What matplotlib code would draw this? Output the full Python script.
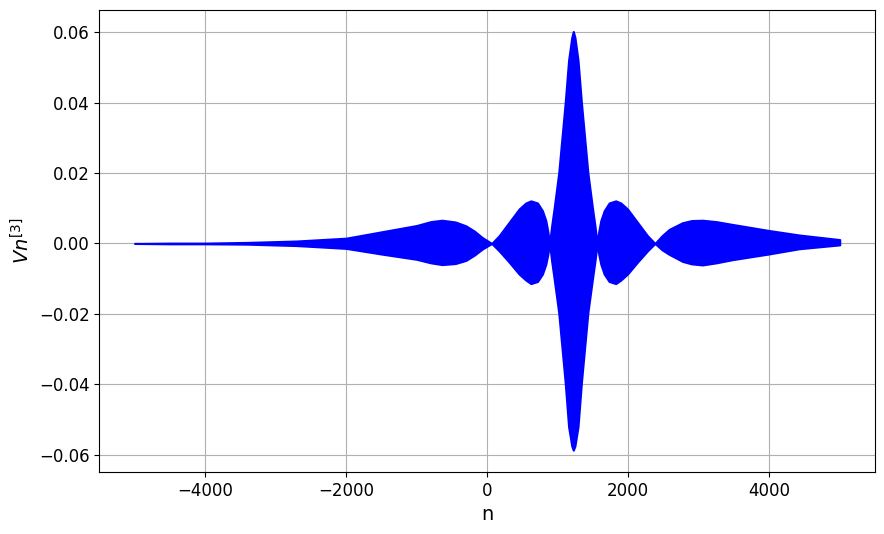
import matplotlib
matplotlib.use("Agg")
import matplotlib.pyplot as plt

# Envelope (upper / lower extremes) of the dense oscillation
n_points = [-5000, -4500, -4000, -3400, -2700, -2000, -1500, -1000, -800, -640, -450, -300, -180, -70, 65,
            170, 312, 454, 549, 620, 714, 784, 832, 860, 885,
            915, 950, 1015, 1107, 1155, 1200, 1222, 1245, 1289, 1337, 1429, 1494, 1529, 1560,
            1584, 1612, 1660, 1730, 1824, 1895, 1990, 2132, 2274, 2380,
            2480, 2582, 2771, 2900, 3054, 3250, 3480, 3991, 4426, 5000]
upper_env = [0.0, 0.0001, 0.0001, 0.0003, 0.0007, 0.0015, 0.0033, 0.0051, 0.0062, 0.0066, 0.0061, 0.0050, 0.0035, 0.0017, 0.0,
             0.0022, 0.0060, 0.0098, 0.0115, 0.0121, 0.0115, 0.0093, 0.0065, 0.0035, 0.0,
             0.0050, 0.0100, 0.0200, 0.0400, 0.0520, 0.0585, 0.0602, 0.0585, 0.0520, 0.0400, 0.0200, 0.0100, 0.0050, 0.0,
             0.0035, 0.0065, 0.0093, 0.0115, 0.0121, 0.0115, 0.0098, 0.0060, 0.0022, 0.0,
             0.0022, 0.0040, 0.0059, 0.0065, 0.0066, 0.0062, 0.0054, 0.0037, 0.0024, 0.0011]
lower_env = [0.0, -0.0001, -0.0001, -0.0002, -0.0006, -0.0014, -0.0030, -0.0045, -0.0055, -0.0060, -0.0057, -0.0048, -0.0033, -0.0016, 0.0,
             -0.0021, -0.0053, -0.0087, -0.0104, -0.0114, -0.0108, -0.0087, -0.0059, -0.0032, 0.0,
             -0.0050, -0.0100, -0.0196, -0.0395, -0.0520, -0.0575, -0.0587, -0.0575, -0.0520, -0.0395, -0.0196, -0.0100, -0.0050, 0.0,
             -0.0032, -0.0059, -0.0087, -0.0108, -0.0114, -0.0104, -0.0087, -0.0053, -0.0021, 0.0,
             -0.0018, -0.0031, -0.0051, -0.0058, -0.0061, -0.0055, -0.0046, -0.0030, -0.0015, -0.0004]

x_ticks = [-4000, -2000, 0, 2000, 4000]
y_ticks = [-0.06, -0.04, -0.02, 0.00, 0.02, 0.04, 0.06]

fig = plt.figure(figsize=(8.84, 5.34), dpi=100)
ax = fig.add_axes([0.1123, 0.1161, 0.8775, 0.8652])

ax.fill_between(n_points, lower_env, upper_env, facecolor="blue",
                edgecolor="blue", linewidth=1.5, capstyle="round", joinstyle="round")

ax.set_xlim(-5500, 5500)
ax.set_ylim(-0.0649, 0.0663)
ax.set_xticks(x_ticks)
ax.set_yticks(y_ticks)
ax.tick_params(labelsize=12)
ax.grid(True, color="#b0b0b0", linewidth=0.8)
ax.set_axisbelow(True)
ax.set_xlabel("n", fontsize=14)
ax.set_ylabel("$Vn^{[3]}$", fontsize=14)

fig.savefig("out.png", dpi=100)
